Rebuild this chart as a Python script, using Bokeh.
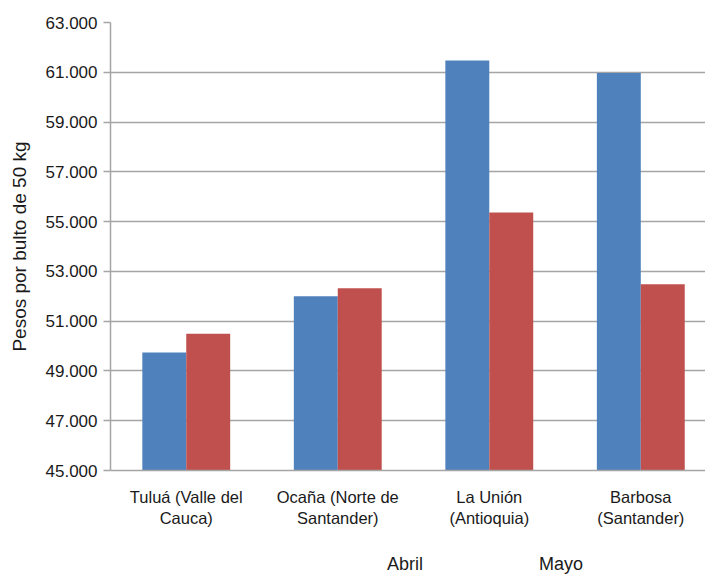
from bokeh.plotting import figure
from bokeh.models import (ColumnDataSource, Range1d, FixedTicker, Legend, LegendItem)
from bokeh.layouts import column
from bokeh.embed import file_html
from bokeh.resources import INLINE
import numpy as np

categories = ["Tuluá (Valle del\nCauca)", "Ocaña (Norte de\nSantander)",
              "La Unión\n(Antioquia)", "Barbosa\n(Santander)"]
abril = [49740, 52000, 61470, 60970]
mayo = [50490, 52320, 55370, 52480]
series_names = ["Abril", "Mayo"]
y_ticks = [45000, 47000, 49000, 51000, 53000, 55000, 57000, 59000, 61000, 63000]
y_tick_labels = ["45.000", "47.000", "49.000", "51.000", "53.000", "55.000",
                 "57.000", "59.000", "61.000", "63.000"]

BLUE = "#4F81BD"
RED = "#C0504D"
FONT = "Liberation Sans"
TEXT = "#1a1a1a"
GRID = "#A5A5A5"

idx = np.arange(len(categories)) + 0.5
src = ColumnDataSource(dict(xa=idx - 0.145, xm=idx + 0.145, abril=abril, mayo=mayo))

p = figure(width=705, height=548, output_backend="svg", toolbar_location=None,
           x_range=Range1d(0, 3.927), y_range=Range1d(45000, 63000),
           min_border_left=110, min_border_top=22, min_border_right=0,
           min_border_bottom=78)
p.outline_line_color = None

p.vbar(x="xa", top="abril", bottom=45000, width=0.29, source=src,
       fill_color=BLUE, line_color=None)
p.vbar(x="xm", top="mayo", bottom=45000, width=0.29, source=src,
       fill_color=RED, line_color=None)

# y axis
p.yaxis.ticker = FixedTicker(ticks=y_ticks)
p.yaxis.major_label_overrides = {t: l for t, l in zip(y_ticks, y_tick_labels)}
p.yaxis.axis_label = "Pesos por bulto de 50 kg"
p.yaxis.axis_label_text_font = FONT
p.yaxis.axis_label_text_font_style = "normal"
p.yaxis.axis_label_text_font_size = "19px"
p.yaxis.axis_label_text_color = TEXT
p.yaxis.axis_label_standoff = 13
p.yaxis.major_label_text_font = FONT
p.yaxis.major_label_text_font_size = "17px"
p.yaxis.major_label_text_color = TEXT
p.yaxis.major_label_standoff = 6
p.yaxis.major_tick_out = 7
p.yaxis.major_tick_in = 0
p.yaxis.minor_tick_line_color = None
p.yaxis.axis_line_color = GRID
p.yaxis.axis_line_width = 1.5
p.yaxis.major_tick_line_color = GRID
p.yaxis.major_tick_line_width = 1.5

# x axis
p.xaxis.ticker = FixedTicker(ticks=list(idx))
p.xaxis.major_label_overrides = {float(t): c for t, c in zip(idx, categories)}
p.xaxis.major_label_text_font = FONT
p.xaxis.major_label_text_font_size = "16.5px"
p.xaxis.major_label_text_color = TEXT
p.xaxis.major_label_standoff = 17
p.xaxis.major_tick_out = 0
p.xaxis.major_tick_in = 0
p.xaxis.minor_tick_line_color = None
p.xaxis.major_tick_line_color = None
p.xaxis.axis_line_color = GRID
p.xaxis.axis_line_width = 1.5

p.xgrid.grid_line_color = None
p.ygrid.ticker = FixedTicker(ticks=y_ticks)
p.ygrid.grid_line_color = GRID
p.ygrid.grid_line_width = 1.5

# legend strip below the chart
lg = figure(width=705, height=27, output_backend="svg", toolbar_location=None,
            x_range=Range1d(0, 1), y_range=Range1d(0, 1),
            x_axis_location=None, y_axis_location=None,
            min_border_left=0, min_border_right=0, min_border_top=0,
            min_border_bottom=0)
lg.outline_line_color = None
lg.grid.visible = False
la = lg.vbar(x=[], top=[], width=0.1, fill_color=BLUE, line_color=None)
lm = lg.vbar(x=[], top=[], width=0.1, fill_color=RED, line_color=None)

legend = Legend(items=[LegendItem(label=series_names[0], renderers=[la]),
                       LegendItem(label=series_names[1], renderers=[lm])],
                orientation="horizontal", location=(259, 0),
                glyph_width=14, glyph_height=14, label_standoff=4,
                label_width=130, spacing=4, padding=0, margin=0,
                border_line_color=None, background_fill_alpha=0,
                label_text_font=FONT, label_text_font_size="18px",
                label_text_color=TEXT)
lg.add_layout(legend, "center")

layout = column(p, lg, spacing=0)
open("out.html", "w").write(file_html(layout, INLINE))
